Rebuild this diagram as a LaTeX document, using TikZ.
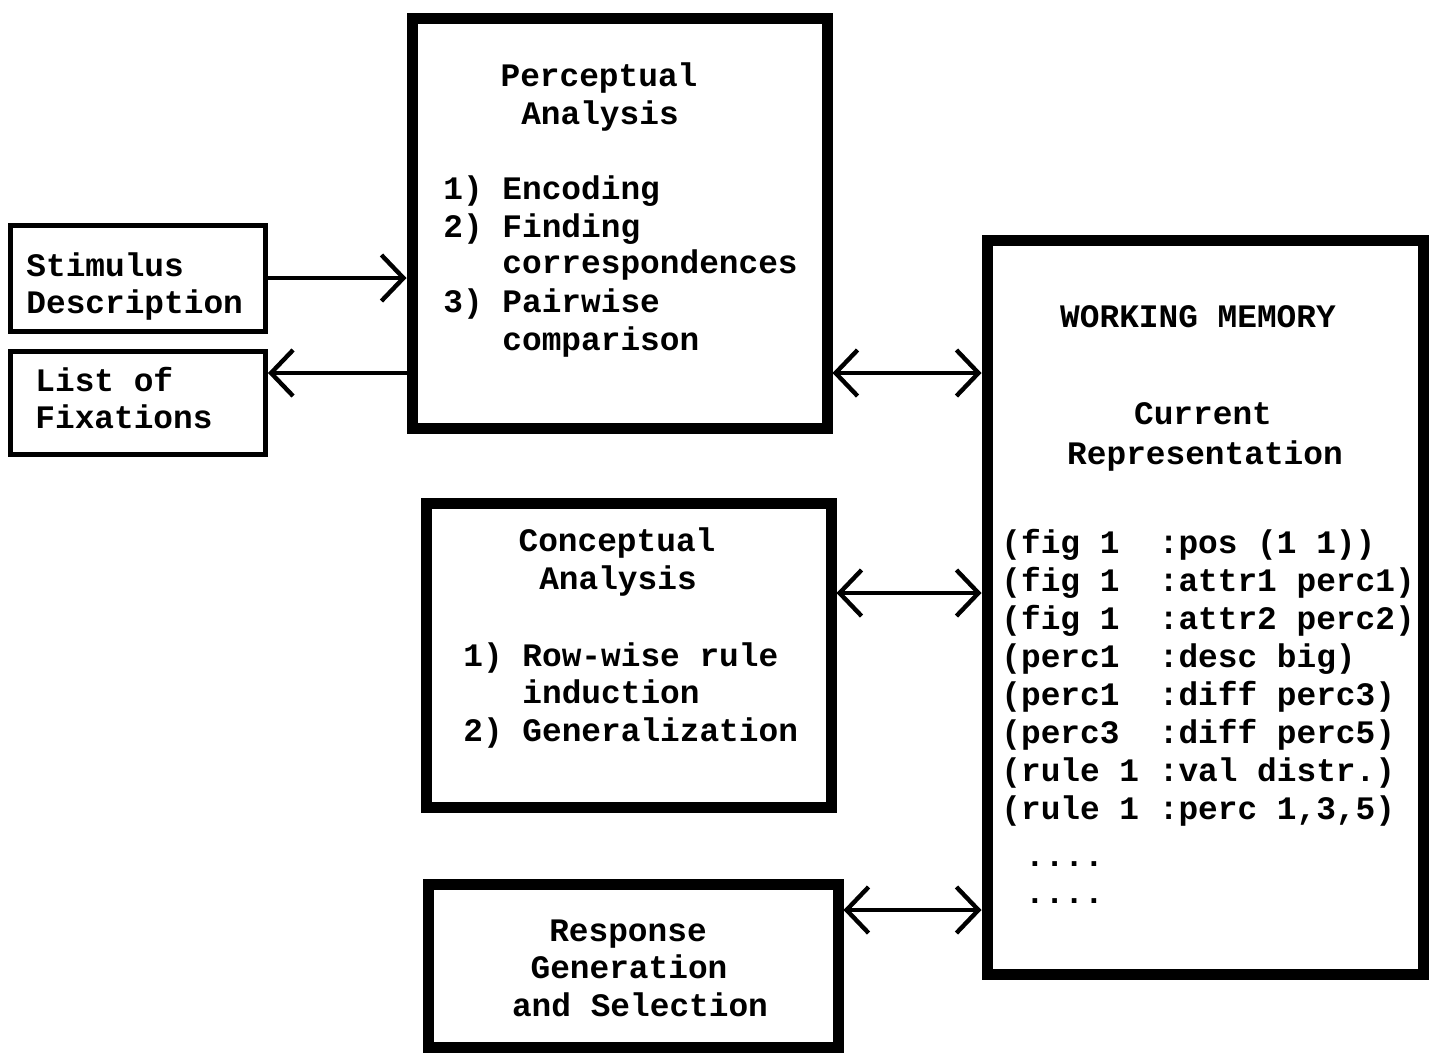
\documentclass[tikz,border=0pt]{standalone}
\usepackage{fontspec}
\setmonofont{Liberation Mono}
\usetikzlibrary{arrows.meta}
\begin{document}
\begin{tikzpicture}[x=0.5pt,y=-0.5pt,
  thickbox/.style={draw, line width=5.5pt, rectangle, inner sep=0pt},
  thinbox/.style={draw, line width=2.5pt, rectangle, inner sep=0pt},
  txt/.style={inner sep=0pt, font=\ttfamily\bfseries\fontsize{16.4}{19}\selectfont},
  arr/.style={line width=2.2pt, -{Straight Barb[length=11pt,width=23pt,line width=2.2pt]}},
  darr/.style={line width=2.2pt, {Straight Barb[length=11pt,width=23pt,line width=2.2pt]}-{Straight Barb[length=11pt,width=23pt,line width=2.2pt]}}]
\useasboundingbox (0,0) rectangle (1442,1056);

% boxes
\node[thickbox, minimum width=207.5pt, minimum height=205pt] (perc) at (619.5,223) {};
\node[thickbox, minimum width=202.5pt, minimum height=152pt] (conc) at (628.5,655) {};
\node[thickbox, minimum width=205pt, minimum height=81.5pt] (resp) at (633,965.5) {};
\node[thickbox, minimum width=218pt, minimum height=367pt] (wm) at (1205,607) {};
\node[thinbox, minimum width=127.5pt, minimum height=53pt] (stim) at (138,278) {};
\node[thinbox, minimum width=127.5pt, minimum height=51.5pt] (lst) at (138,402.5) {};

% Stimulus / List
\node[txt, anchor=base west] (t1) at (26,276) {Stimulus};
\node[txt, anchor=base west] (t2) at (26,313) {Description};
\node[txt, anchor=base west] (t3) at (35,391) {List of};
\node[txt, anchor=base west] (t4) at (35,428) {Fixations};

% Perceptual
\node[txt, anchor=base] (p1) at (599,86) {Perceptual};
\node[txt, anchor=base] (p2) at (600,124) {Analysis};
\node[txt, anchor=base west] (p3) at (443,199) {1) Encoding};
\node[txt, anchor=base west] (p4) at (443,237) {2) Finding};
\node[txt, anchor=base west] (p5) at (443,273) {\phantom{2) }correspondences};
\node[txt, anchor=base west] (p6) at (443,312) {3) Pairwise};
\node[txt, anchor=base west] (p7) at (443,350) {\phantom{3) }comparison};

% Conceptual
\node[txt, anchor=base] (c1) at (617,551) {Conceptual};
\node[txt, anchor=base] (c2) at (618,589) {Analysis};
\node[txt, anchor=base west] (c3) at (463,666) {1) Row-wise rule};
\node[txt, anchor=base west] (c4) at (463,703) {\phantom{1) }induction};
\node[txt, anchor=base west] (c5) at (463,741) {2) Generalization};

% Response
\node[txt, anchor=base] (r1) at (628,941) {Response};
\node[txt, anchor=base] (r2) at (629,978) {Generation};
\node[txt, anchor=base] (r3) at (640,1016) {and Selection};

% Working memory
\node[txt, anchor=base] (w1) at (1198,327) {WORKING MEMORY};
\node[txt, anchor=base] (w2) at (1203,424) {Current};
\node[txt, anchor=base] (w3) at (1205,464) {Representation};
\node[txt, anchor=base west] (m1) at (1001,553) {(fig 1~~:pos (1 1))};
\node[txt, anchor=base west] (m2) at (1001,591) {(fig 1~~:attr1 perc1)};
\node[txt, anchor=base west] (m3) at (1001,629) {(fig 1~~:attr2 perc2)};
\node[txt, anchor=base west] (m4) at (1001,667) {(perc1~~:desc big)};
\node[txt, anchor=base west] (m5) at (1001,705) {(perc1~~:diff perc3)};
\node[txt, anchor=base west] (m6) at (1001,743) {(perc3~~:diff perc5)};
\node[txt, anchor=base west] (m7) at (1001,781) {(rule 1 :val distr.)};
\node[txt, anchor=base west] (m8) at (1001,819) {(rule 1 :perc 1,3,5)};
\node[txt, anchor=base west] (m9) at (1005,866) {~....};
\node[txt, anchor=base west] (m10) at (1005,903) {~....};

% connector levels
\coordinate (y1) at (0,373);
\coordinate (y2) at (0,593);
\coordinate (y3) at (0,910);

\draw[arr] (stim.east) -- (stim.east -| perc.west);
\draw[arr] (perc.west |- y1) -- (lst.east |- y1);
\draw[darr] (perc.east |- y1) -- (wm.west |- y1);
\draw[darr] (conc.east |- y2) -- (wm.west |- y2);
\draw[darr] (resp.east |- y3) -- (wm.west |- y3);
\end{tikzpicture}
\end{document}
